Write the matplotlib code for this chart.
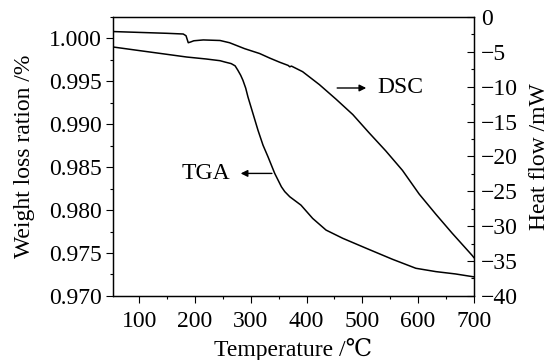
import matplotlib
matplotlib.use('Agg')
import matplotlib.pyplot as plt
from matplotlib.ticker import MultipleLocator, FormatStrFormatter

plt.rcParams['font.family'] = ['Liberation Serif', 'DejaVu Serif', 'DejaVu Sans']
plt.rcParams['font.size'] = 17

# TGA curve (weight loss ratio, left axis)
tga_temp = [54, 100, 150, 185, 220, 245, 254, 265, 272, 277, 282, 286, 291, 295,
            304, 313, 322, 331, 343, 355, 361, 370, 390, 411, 435, 465, 507, 554,
            596, 632, 667, 700]
tga_weight = [0.99899, 0.99858, 0.99814, 0.99783, 0.99760, 0.99740, 0.99724, 0.99706,
              0.99680, 0.99628, 0.99570, 0.99512, 0.99420, 0.99318, 0.99124, 0.98930,
              0.98756, 0.98620, 0.98427, 0.98271, 0.98215, 0.98155, 0.98058, 0.97903,
              0.97767, 0.97671, 0.97555, 0.97427, 0.97322, 0.97283, 0.97256, 0.97222]

# DSC curve (heat flow, right axis)
dsc_temp = [54, 100, 150, 179, 184, 188, 192, 198, 215, 245, 262, 289, 316, 334, 352,
            367, 370, 373, 393, 423, 453, 483, 512, 542, 572, 602, 632, 661, 697, 700]
dsc_heat = [-2.1, -2.22, -2.35, -2.45, -2.7, -3.7, -3.6, -3.42, -3.3, -3.38, -3.7,
            -4.55, -5.25, -5.9, -6.5, -6.95, -7.15, -7.05, -7.85, -9.7, -11.8, -14.0,
            -16.6, -19.2, -22.0, -25.4, -28.3, -31.0, -34.2, -34.5]

fig = plt.figure(figsize=(5.51, 3.6), dpi=100)
ax = fig.add_axes([0.205, 0.178, 0.655, 0.775])
ax2 = ax.twinx()

ax.plot(tga_temp, tga_weight, color='black', lw=1.1)
ax2.plot(dsc_temp, dsc_heat, color='black', lw=1.1)

ax.set_xlim(53, 700)
ax.set_ylim(0.970, 1.0025)
ax2.set_ylim(-40, 0)

ax.xaxis.set_major_locator(MultipleLocator(100))
ax.xaxis.set_minor_locator(MultipleLocator(50))
ax.yaxis.set_major_locator(MultipleLocator(0.005))
ax.yaxis.set_minor_locator(MultipleLocator(0.0025))
ax.yaxis.set_major_formatter(FormatStrFormatter('%.3f'))
ax2.yaxis.set_major_locator(MultipleLocator(5))
ax2.yaxis.set_minor_locator(MultipleLocator(2.5))

ax.tick_params(axis='both', which='major', direction='out', length=5, width=0.8)
ax.tick_params(axis='x', which='major', pad=6)
ax.tick_params(axis='y', which='major', pad=3)
ax.tick_params(axis='both', which='minor', direction='out', length=2.5, width=0.8)
ax.tick_params(top=False, right=False, which='both')
ax2.tick_params(axis='y', which='major', direction='in', length=5, width=0.8, pad=5)
ax2.tick_params(axis='y', which='minor', direction='in', length=2.5, width=0.8)

for a in (ax, ax2):
    for s in a.spines.values():
        s.set_linewidth(0.9)

ax.set_xlabel('Temperature /℃', labelpad=4)
ax.set_ylabel('Weight loss ration /%', labelpad=10)
ax2.set_ylabel('Heat flow /mW', labelpad=8)

# curve labels with arrows
ax.annotate('', xy=(277, 0.98427), xytext=(343, 0.98427),
            arrowprops=dict(arrowstyle='-|>', color='black', lw=1.0, mutation_scale=10))
ax.text(220, 0.98427, 'TGA', ha='center', va='center')
ax2.annotate('', xy=(512, -10.19), xytext=(450, -10.19),
             arrowprops=dict(arrowstyle='-|>', color='black', lw=1.0, mutation_scale=10))
ax2.text(527, -10.19, 'DSC', ha='left', va='center')

plt.savefig('out.png', dpi=100)
